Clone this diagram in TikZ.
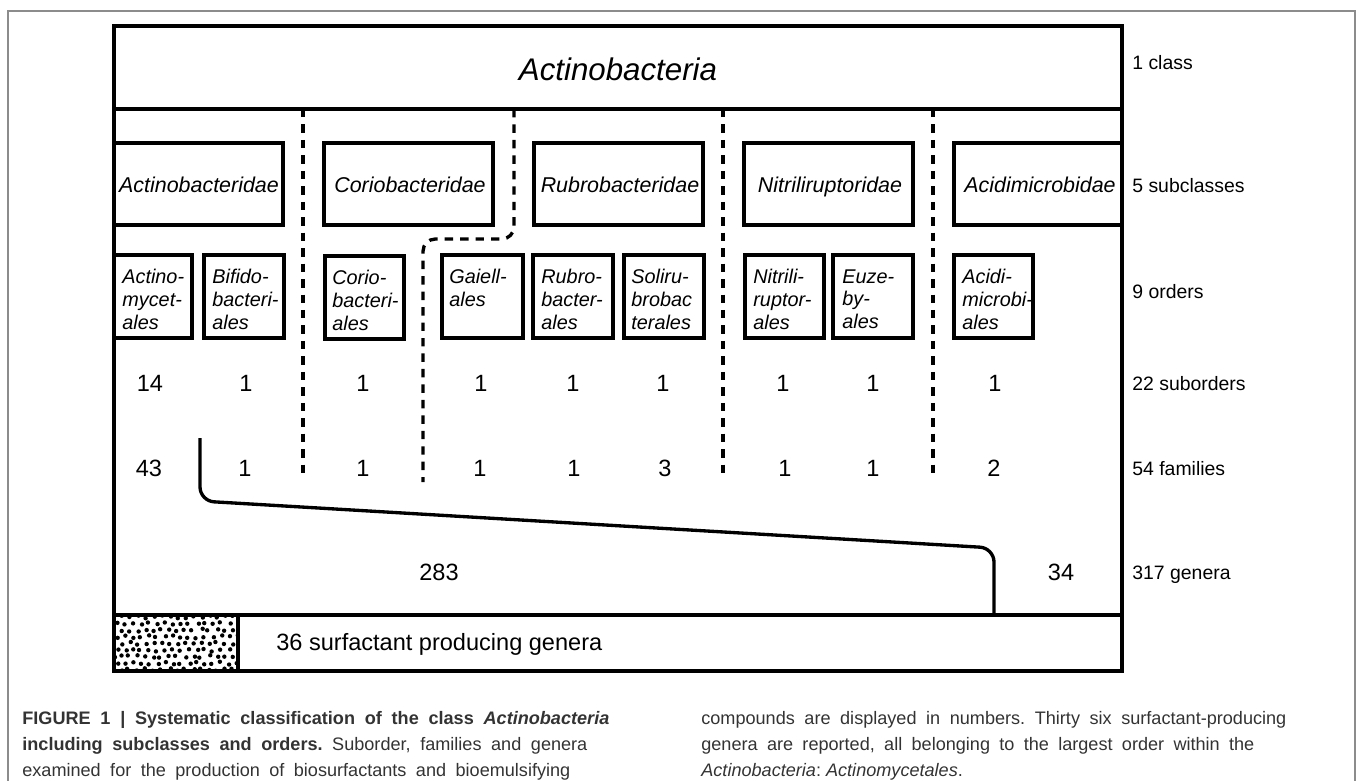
\documentclass[tikz,border=0pt]{standalone}
\usepackage{fontspec}
\setmainfont{Liberation Sans}
\usepackage{tikz}
\usetikzlibrary{calc}
\newlength\pxu
\setlength\pxu{0.02cm}
\frenchspacing

\begin{document}
\begin{tikzpicture}[x=0.02cm,y=-0.02cm,
    frame/.style={line width=1.9pt},
    cut/.style={line width=1.9pt, dash pattern=on 4.8pt off 4pt},
    tier/.style={anchor=base west, inner sep=0pt, font=\fontsize{11.05pt}{13pt}\selectfont},
    subcl/.style={anchor=base, inner sep=0pt, font=\fontsize{12.2pt}{14pt}\selectfont\itshape},
    ordr/.style={anchor=north west, align=left, inner sep=0pt, font=\fontsize{11.3pt}{13pt}\selectfont\itshape},
    count/.style={anchor=base, inner sep=0pt, font=\fontsize{13.4pt}{16pt}\selectfont},
    capline/.style={anchor=base west, inner sep=0pt, text=black!80, font=\fontsize{10.3pt}{14pt}\selectfont}]
      \useasboundingbox (0,0) rectangle (1360,781);
      % gray figure frame
      \draw[black!45, line width=0.8pt] (8,800) -- (8,11) -- (1355,11) -- (1355,800);
      % main scheme
      \draw[frame] (114,26) rectangle (1122,671);
      \draw[frame] (114,109) -- (1122,109);
      \draw[frame] (114,615) -- (1122,615);
      \draw[frame] (238,615) -- (238,671);
      \node[anchor=base, inner sep=0pt, font=\fontsize{17.8pt}{20pt}\selectfont\itshape] (cls) at (618,80.5) {Actinobacteria};
      % subclasses
      \draw[frame] (114,143) rectangle (283,225);
      \draw[frame] (324,143) rectangle (493,225);
      \draw[frame] (534,143) rectangle (703,225);
      \draw[frame] (744,143) rectangle (913,225);
      \draw[frame] (954,143) rectangle (1122,225);
      \node[subcl] (actinobac) at (199,192.7) {Actinobacteridae};
      \node[subcl] (coriobac) at (410,192.7) {Coriobacteridae};
      \node[subcl] (rubrobac) at (620,192.7) {Rubrobacteridae};
      \node[subcl] (nitrilirup) at (830,192.7) {Nitriliruptoridae};
      \node[subcl] (acidimic) at (1040,192.7) {Acidimicrobidae};
      % orders
      \draw[frame] (114,255) rectangle (192,338);
      \draw[frame] (204,255) rectangle (284,338);
      \draw[frame] (325,256) rectangle (404,339);
      \draw[frame] (442,255) rectangle (523,338);
      \draw[frame] (533,255) rectangle (613,338);
      \draw[frame] (624,255) rectangle (704,338);
      \draw[frame] (745,255) rectangle (824,338);
      \draw[frame] (833,255) rectangle (913,338);
      \draw[frame] (954,255) rectangle (1033,338);
      \node[ordr] (actinomyc) at (122,269) {Actino-\\mycet-\\ales};
      \node[ordr] (bifido) at (212,269) {Bifido-\\bacteri-\\ales};
      \node[ordr] (corio) at (332,270) {Corio-\\bacteri-\\ales};
      \node[ordr] (gaiell) at (449,269) {Gaiell-\\ales};
      \node[ordr] (rubro) at (541,269) {Rubro-\\bacter-\\ales};
      \node[ordr] (soliru) at (631,269) {Soliru-\\brobac\\terales};
      \node[ordr] (nitrili) at (753,269) {Nitrili-\\ruptor-\\ales};
      \node[ordr] (euze) at (842,269) {Euze-\\by-\\ales};
      \node[ordr] (acidi) at (962,269) {Acidi-\\microbi-\\ales};
      % subclass borders
      \coordinate (cutAtop) at (303,109);  \coordinate (cutAend) at (303,478);
      \coordinate (cutBtop) at (514,109);  \coordinate (cutBend) at (423,482);
      \coordinate (cutCtop) at (723,109);  \coordinate (cutCend) at (723,478);
      \coordinate (cutDtop) at (933,109);  \coordinate (cutDend) at (933,477);
      \draw[cut] (cutAtop) -- (cutAend);
      \draw[cut, rounded corners=7pt] (cutBtop) -- (514,239) -- (423,239) -- (cutBend);
      \draw[cut] (cutCtop) -- (cutCend);
      \draw[cut] (cutDtop) -- (cutDend);
      % suborders
      \node[count] (subA) at (150,391.5) {14};
      \node[count] (subB) at (246,391.5) {1};
      \node[count] (subC) at (363,391.5) {1};
      \node[count] (subD) at (481,391.5) {1};
      \node[count] (subE) at (573,391.5) {1};
      \node[count] (subF) at (663,391.5) {1};
      \node[count] (subG) at (783,391.5) {1};
      \node[count] (subH) at (873,391.5) {1};
      \node[count] (subI) at (995,391.5) {1};
      % families
      \node[count] (famA) at (149,476.5) {43};
      \node[count] (famB) at (245,476.5) {1};
      \node[count] (famC) at (363,476.5) {1};
      \node[count] (famD) at (480,476.5) {1};
      \node[count] (famE) at (574,476.5) {1};
      \node[count] (famF) at (665,476.5) {3};
      \node[count] (famG) at (785,476.5) {1};
      \node[count] (famH) at (873,476.5) {1};
      \node[count] (famI) at (994,476.5) {2};
      % genera split: Actinomycetales vs. the rest
      \coordinate (splitTop) at (200,438);
      \coordinate (splitEnd) at (994,615);
      \draw[frame, rounded corners=8pt] (splitTop) -- (200,501) -- (994,548) -- (splitEnd);
      \node[count] (genA) at (439,580.5) {283};
      \node[count] (genB) at (1061,580.5) {34};
      % surfactant producers
      \begin{scope}
        \clip (114,615) rectangle (238,671);
        \pgfmathsetseed{11}
        \foreach \i in {0,...,15}
          \foreach \j in {0,...,8}
            \fill ({113+\i*8+mod(\j,2)*4+2*rand},{617+\j*6.6+1.5*rand}) circle (1.25pt);
      \end{scope}
      \draw[frame] (114,615) rectangle (238,671);
      \node[count, anchor=base west] (surf) at (276,650) {36 surfactant producing genera};
      % rank labels
      \node[tier] (rkClass) at (1132,70) {1 class};
      \node[tier] (rkSub) at (1132,192) {5 subclasses};
      \node[tier] (rkOrd) at (1132,298) {9 orders};
      \node[tier] (rkSubord) at (1132,390) {22 suborders};
      \node[tier] (rkFam) at (1132,475) {54 families};
      \node[tier] (rkGen) at (1132,579) {317 genera};
      % caption
      \node[capline] (capL1) at (22,724.5) {\makebox[587\pxu][s]{\bfseries FIGURE 1 | Systematic classification of the class \textit{Actinobacteria}}};
      \node[capline] (capL2) at (22,750.5) {\makebox[565\pxu][s]{\textbf{including subclasses and orders.} Suborder, families and genera}};
      \node[capline] (capL3) at (22,776.5) {\makebox[548\pxu][s]{examined for the production of biosurfactants and bioemulsifying}};
      \node[capline] (capR1) at (701,724.5) {\makebox[585\pxu][s]{compounds are displayed in numbers. Thirty six surfactant-producing}};
      \node[capline] (capR2) at (701,750.5) {\makebox[553\pxu][s]{genera are reported, all belonging to the largest order within the}};
      \node[capline] (capR3) at (701,776.5) {\textit{Actinobacteria}: \textit{Actinomycetales}.};
    \end{tikzpicture}
\end{document}
